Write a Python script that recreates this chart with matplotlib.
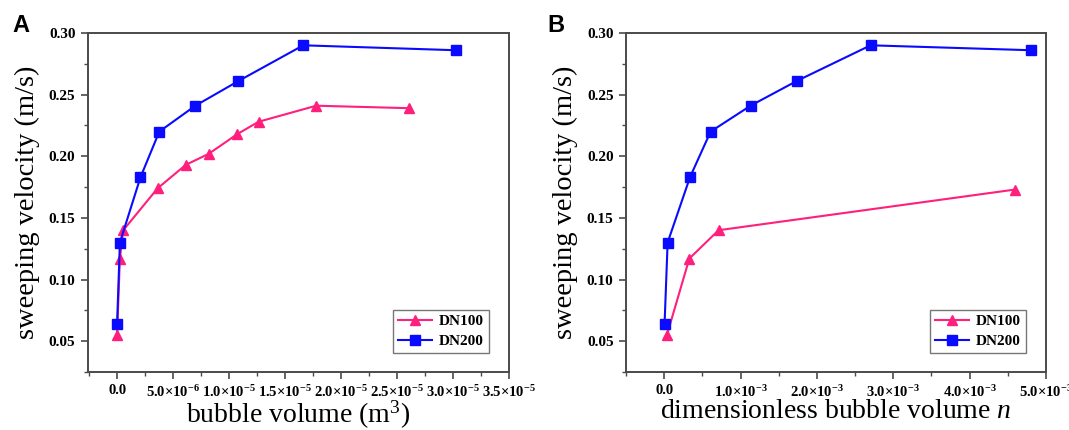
import matplotlib
matplotlib.use("Agg")
import matplotlib.pyplot as plt
from matplotlib.ticker import AutoMinorLocator

# panel A: velocity vs bubble volume (m^3)
vol_dn100 = [0.0, 2.5e-7, 5.5e-7, 3.62e-6, 6.13e-6, 8.19e-6, 1.074e-5, 1.264e-5, 1.779e-5, 2.607e-5]
vel_dn100 = [0.055, 0.117, 0.140, 0.174, 0.193, 0.202, 0.218, 0.228, 0.241, 0.239]
vol_dn200 = [0.0, 2.5e-7, 2.09e-6, 3.77e-6, 6.99e-6, 1.083e-5, 1.663e-5, 3.028e-5]
vel_dn200 = [0.064, 0.130, 0.183, 0.220, 0.241, 0.261, 0.290, 0.286]

# panel B: velocity vs dimensionless volume n
n_dn100 = [3.6e-5, 3.29e-4, 7.12e-4, 4.595e-3]
nvel_dn100 = [0.055, 0.117, 0.140, 0.173]
n_dn200 = [5e-6, 4.5e-5, 3.38e-4, 6.08e-4, 1.131e-3, 1.734e-3, 2.703e-3, 4.806e-3]
nvel_dn200 = [0.064, 0.130, 0.183, 0.220, 0.241, 0.261, 0.290, 0.286]

xticks_a = [0, 5e-6, 1e-5, 1.5e-5, 2e-5, 2.5e-5, 3e-5, 3.5e-5]
xlabels_a = ['0.0', r'5.0$\times$10$^{-6}$', r'1.0$\times$10$^{-5}$', r'1.5$\times$10$^{-5}$',
             r'2.0$\times$10$^{-5}$', r'2.5$\times$10$^{-5}$', r'3.0$\times$10$^{-5}$',
             r'3.5$\times$10$^{-5}$']
xticks_b = [0, 1e-3, 2e-3, 3e-3, 4e-3, 5e-3]
xlabels_b = ['0.0', r'1.0$\times$10$^{-3}$', r'2.0$\times$10$^{-3}$', r'3.0$\times$10$^{-3}$',
             r'4.0$\times$10$^{-3}$', r'5.0$\times$10$^{-3}$']
yticks = [0.05, 0.10, 0.15, 0.20, 0.25, 0.30]

plt.rcParams['font.family'] = ['Liberation Serif', 'DejaVu Serif']
plt.rcParams['mathtext.fontset'] = 'custom'
plt.rcParams['mathtext.rm'] = 'Liberation Serif:bold'
plt.rcParams['mathtext.bf'] = 'Liberation Serif:bold'
plt.rcParams['mathtext.it'] = 'Liberation Serif:italic'

PINK = '#ff1f7c'
BLUE = '#0a0aff'
SPINE = '#4a4a4a'

fig = plt.figure(figsize=(10.69, 4.30), dpi=100)
ax_a = fig.add_axes([0.0823, 0.1349, 0.3938, 0.7884])
ax_b = fig.add_axes([0.5856, 0.1349, 0.3929, 0.7884])


def style_axes(ax, xticks, xlabels, xlim, xlabel):
    ax.set_xlim(*xlim)
    ax.set_ylim(0.025, 0.30)
    ax.set_xticks(xticks)
    ax.set_xticklabels(xlabels, fontsize=10.5, fontweight='bold')
    ax.set_yticks(yticks)
    ax.set_yticklabels([f'{v:.2f}' for v in yticks], fontsize=11, fontweight='bold')
    ax.xaxis.set_minor_locator(AutoMinorLocator(2))
    ax.yaxis.set_minor_locator(AutoMinorLocator(2))
    ax.tick_params(which='major', direction='out', length=5, width=1.2, color=SPINE, pad=4)
    ax.tick_params(which='minor', direction='out', length=3, width=1.0, color=SPINE)
    ax.tick_params(top=False, right=False)
    for s in ax.spines.values():
        s.set_color(SPINE)
        s.set_linewidth(1.4)
    ax.set_xlabel(xlabel, fontsize=20, labelpad=-1)
    ax.set_ylabel('sweeping velocity (m/s)', fontsize=20.5, labelpad=6)
    leg = ax.legend(loc='lower right', bbox_to_anchor=(0.952, 0.056), borderaxespad=0,
                    prop={'weight': 'bold', 'size': 11}, frameon=True, fancybox=False,
                    edgecolor='#555555', handlelength=2.2, handletextpad=0.5,
                    borderpad=0.3, labelspacing=0.45)
    leg.get_frame().set_linewidth(1.0)


ax_a.plot(vol_dn100, vel_dn100, color=PINK, marker='^', markersize=7, lw=1.5, label='DN100')
ax_a.plot(vol_dn200, vel_dn200, color=BLUE, marker='s', markersize=6.5, lw=1.5, label='DN200')
style_axes(ax_a, xticks_a, xlabels_a, (-2.6e-6, 3.5e-5), r'bubble volume (m$^{\mathregular{3}}$)')

ax_b.plot(n_dn100, nvel_dn100, color=PINK, marker='^', markersize=7, lw=1.5, label='DN100')
ax_b.plot(n_dn200, nvel_dn200, color=BLUE, marker='s', markersize=6.5, lw=1.5, label='DN200')
style_axes(ax_b, xticks_b, xlabels_b, (-0.5e-3, 5e-3), r'dimensionless bubble volume $\mathit{n}$')

fig.text(0.012, 0.925, 'A', fontsize=17, fontweight='bold', family='Liberation Sans')
fig.text(0.512, 0.925, 'B', fontsize=17, fontweight='bold', family='Liberation Sans')

fig.savefig('out.png', dpi=100, facecolor='white')
